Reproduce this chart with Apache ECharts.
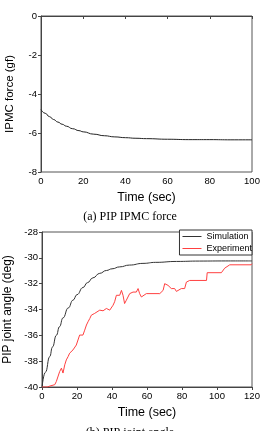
<!DOCTYPE html>
<html>
<head>
<meta charset="utf-8">
<script src="https://cdn.jsdelivr.net/npm/echarts@6/dist/echarts.min.js"></script>
<style>
  html, body { margin: 0; padding: 0; background: #fff; }
  #chart { width: 260px; height: 431px; }
</style>
</head>
<body>
<div id="chart"></div>
<script>
const chart = echarts.init( document.getElementById( 'chart' ) );

// (a) force IPMC
const forceTime = [ 0, 2, 4, 6, 8, 10, 12, 15, 18, 20, 25, 30, 35, 40, 45, 50, 60, 70, 80, 90, 100 ];
const forceValue = [ -4.80, -4.99, -5.16, -5.31, -5.44, -5.55, -5.65, -5.78, -5.88, -5.94, -6.06, -6.14, -6.20, -6.24, -6.27, -6.29, -6.32, -6.34, -6.34, -6.35, -6.35 ];

// (b) angle PIP : simulation
const simTime = [ 0, 2, 4.4, 6, 8.2, 10, 12, 15, 17.7, 20, 23.4, 26, 29.1, 33, 36.8, 40, 44.4, 50, 57.7, 65, 76.8, 90, 105, 120 ];
const simAngle = [ -40, -38.85, -37.65, -36.9, -36.0, -35.33, -34.65, -33.88, -33.28, -32.85, -32.3, -31.92, -31.55, -31.2, -30.98, -30.85, -30.7, -30.56, -30.43, -30.35, -30.28, -30.25, -30.24, -30.24 ];

// (b) angle PIP : expérience
const expTime = [ 0, 3, 4.4, 7.3, 8.2, 10.1, 11.1, 12, 13, 13.9, 14.9, 15.8, 17.7, 19.6, 21.5, 22.5, 23.4, 24.4, 25.4, 26.3, 27.3, 28.2, 29.1, 30.1, 31.1, 33, 34.9, 36.8, 38.7, 40.6, 41.5, 42.5, 44.4, 45.4, 46.3, 47.2, 48.2, 50.1, 52, 53.9, 54.9, 55.8, 56.8, 57.7, 59.6, 67.3, 69.2, 70.1, 72, 73.9, 75.8, 76.8, 77.7, 79.6, 81.5, 82.5, 84.4, 94, 94.4, 102.5, 104.4, 105.4, 107.3, 119.5, 120 ];
const expAngle = [ -40, -40, -39.93, -39.82, -39.57, -38.8, -38.54, -38.92, -38.28, -37.9, -37.65, -37.38, -37.13, -36.75, -35.98, -35.85, -35.98, -35.6, -35.2, -34.95, -34.7, -34.44, -34.57, -34.3, -34.18, -34.05, -34.1, -33.92, -34.05, -33.67, -33.4, -32.9, -32.9, -32.52, -32.9, -33.54, -33.28, -32.77, -32.65, -32.65, -32.38, -32.77, -33.03, -32.9, -32.77, -32.77, -32.52, -32.0, -32.13, -32.38, -32.38, -32.6, -32.55, -32.38, -32.38, -31.88, -31.75, -31.75, -31.15, -31.15, -30.8, -30.75, -30.54, -30.54, -30.45 ];

const zip = ( xs, ys ) => xs.map( ( x, i ) => [ x, ys[ i ] ] );

const sans = 'Liberation Sans';
const labelStyle = { color: '#000', fontSize: 9.5, fontFamily: sans, margin: 4 };
const lineAxis = { lineStyle: { color: '#444', width: 1 } };
const tick = { inside: false, length: 3, lineStyle: { color: '#444' } };

function xAxis ( gridIndex, max ) {
  return {
    type: 'value', gridIndex, min: 0, max, interval: 20,
    name: 'Time (sec)', nameLocation: 'middle', nameGap: 19,
    nameTextStyle: { color: '#000', fontSize: 12.5, fontFamily: sans },
    axisLine: lineAxis, axisTick: tick, axisLabel: labelStyle,
    splitLine: { show: false }
  };
}

function yAxis ( gridIndex, min, max, name, gap, size ) {
  return {
    type: 'value', gridIndex, min, max, interval: 2,
    name, nameLocation: 'middle', nameGap: gap,
    nameTextStyle: { color: '#000', fontSize: size, fontFamily: sans },
    axisLine: { show: true, ...lineAxis }, axisTick: tick, axisLabel: labelStyle,
    splitLine: { show: false }
  };
}

const captionStyle = { fontFamily: 'Liberation Serif', fontSize: 12, fontWeight: 'normal', color: '#000' };

chart.setOption( {
  animation: false,
  title: [
    { text: '(a) PIP IPMC force', left: 130, top: 211, textAlign: 'center', padding: 0, textStyle: captionStyle },
    { text: '(b) PIP joint angle', left: 130, top: 427, textAlign: 'center', padding: 0, textStyle: captionStyle }
  ],
  grid: [
    { left: 41, right: 8, top: 16, height: 156, show: true, borderColor: '#555', borderWidth: 1, outerBoundsMode: 'none', containLabel: false },
    { left: 42, right: 8, top: 232, height: 155, show: true, borderColor: '#555', borderWidth: 1, outerBoundsMode: 'none', containLabel: false }
  ],
  xAxis: [ xAxis( 0, 100 ), xAxis( 1, 120 ) ],
  yAxis: [
    yAxis( 0, -8, 0, 'IPMC force (gf)', 25, 11.5 ),
    yAxis( 1, -40, -28, 'PIP joint angle (deg)', 27, 12 )
  ],
  legend: {
    data: [ 'Simulation', 'Experiment' ],
    orient: 'vertical',
    right: 8, top: 230,
    backgroundColor: '#fff',
    borderColor: '#333', borderWidth: 1, borderRadius: 0,
    padding: [ 2, 0, 2, 3 ],
    itemGap: 3, itemWidth: 19, itemHeight: 1,
    icon: 'rect',
    textStyle: { fontFamily: sans, fontSize: 9, color: '#000' }
  },
  series: [
    {
      name: 'Force', type: 'line', xAxisIndex: 0, yAxisIndex: 0,
      data: zip( forceTime, forceValue ), smooth: true, smoothMonotone: 'x', symbol: 'none',
      lineStyle: { color: '#222', width: 1 }
    },
    {
      name: 'Simulation', type: 'line', xAxisIndex: 1, yAxisIndex: 1,
      data: zip( simTime, simAngle ), smooth: true, smoothMonotone: 'x', symbol: 'none',
      itemStyle: { color: '#333' },
      lineStyle: { color: '#333', width: 1 }
    },
    {
      name: 'Experiment', type: 'line', xAxisIndex: 1, yAxisIndex: 1,
      data: zip( expTime, expAngle ), symbol: 'none',
      itemStyle: { color: '#ff4040' },
      lineStyle: { color: '#ff4040', width: 1 }
    }
  ]
} );
</script>
</body>
</html>
